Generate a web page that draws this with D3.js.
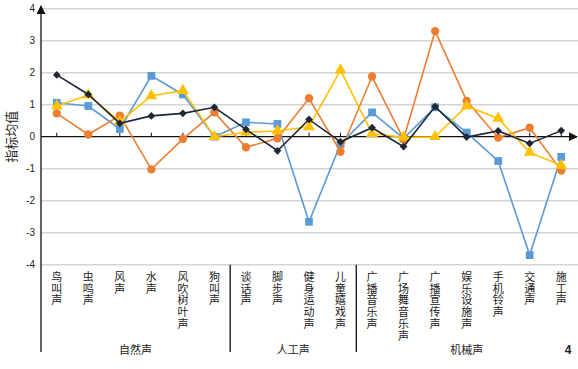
<!DOCTYPE html>
<html><head><meta charset="utf-8">
<script src="https://cdn.jsdelivr.net/npm/d3@7/dist/d3.min.js"></script>
<style>body{margin:0;background:#fff;} svg{display:block;}</style>
</head><body>
<svg id="c" width="578" height="369"></svg>
<script>
const categories = ["鸟叫声","虫鸣声","风声","水声","风吹树叶声","狗叫声","谈话声","脚步声","健身运动声","儿童嬉戏声","广播音乐声","广场舞音乐声","广播宣传声","娱乐设施声","手机铃声","交通声","施工声"];
const groups = [{name:"自然声",start:0,end:5},{name:"人工声",start:6,end:9},{name:"机械声",start:10,end:16}];
const blueVals   = [1.06,0.96,0.24,1.90,1.32,0.00,0.45,0.40,-2.66,-0.23,0.76,-0.05,0.92,0.13,-0.76,-3.70,-0.63];
const orangeVals = [0.73,0.07,0.66,-1.02,-0.07,0.76,-0.33,-0.05,1.20,-0.47,1.88,-0.08,3.30,1.12,-0.03,0.28,-1.06];
const yellowVals = [0.96,1.30,0.47,1.28,1.44,0.00,0.14,0.18,0.31,2.08,0.10,-0.02,0.00,0.96,0.57,-0.49,-0.90];
const blackVals  = [1.93,1.32,0.42,0.65,0.73,0.92,0.23,-0.44,0.54,-0.16,0.28,-0.31,0.94,-0.01,0.18,-0.21,0.19];
const yTicks = [-4,-3,-2,-1,0,1,2,3,4];
const yTitle = "指标均值";

const svg = d3.select("#c");
const x = d3.scaleBand().domain(categories).range([41,577]);
const y = d3.scaleLinear().domain([-4,4]).range([264.7,8.7]);
const cx = d => x(d) + x.bandwidth()/2;

// gridlines
svg.append("g").selectAll("line").data(yTicks.filter(v=>v!==0)).join("line")
  .attr("x1",41).attr("x2",578).attr("y1",d=>y(d)).attr("y2",d=>y(d))
  .attr("stroke","#d4d4d4").attr("stroke-width",1.5);

// y axis
const yAxis = d3.axisLeft(y).tickValues(yTicks).tickSize(0).tickPadding(6).tickFormat(d=>d3.format("d")(d).replace("−","-"));
const ya = svg.append("g").attr("transform","translate(41,0)").call(yAxis);
ya.select(".domain").remove();
ya.selectAll("text").attr("font-family","Liberation Sans, Arial, sans-serif").attr("font-size",10).attr("fill","#222");

const defs = svg.append("defs");
defs.append("marker").attr("id","arr").attr("viewBox","0 0 10 10").attr("refX",9).attr("refY",5)
  .attr("markerWidth",7).attr("markerHeight",7).attr("orient","auto-start-reverse")
  .append("path").attr("d","M0,0L10,5L0,10z").attr("fill","#111");

// vertical y axis line with arrow at top
svg.append("line").attr("x1",41).attr("x2",41).attr("y1",352).attr("y2",6)
  .attr("stroke","#111").attr("stroke-width",1.3).attr("marker-end","url(#arr)");
// zero axis with arrow
svg.append("line").attr("x1",41).attr("x2",577).attr("y1",y(0)).attr("y2",y(0))
  .attr("stroke","#111").attr("stroke-width",1.3).attr("marker-end","url(#arr)");
// category ticks on zero line
svg.append("g").selectAll("line").data(categories).join("line")
  .attr("x1",d=>cx(d)).attr("x2",d=>cx(d)).attr("y1",y(0)-4).attr("y2",y(0))
  .attr("stroke","#111").attr("stroke-width",1);

// y title
svg.append("text").attr("transform",`translate(16,${y(0)}) rotate(-90)`).attr("text-anchor","middle")
  .attr("font-family","Noto Sans CJK SC").attr("font-size",13).attr("fill","#222").text(yTitle);

// series
const series = [
  {vals:blueVals, color:"#5b9bd5", shape:"square"},
  {vals:orangeVals, color:"#ed7d31", shape:"circle"},
  {vals:yellowVals, color:"#ffc000", shape:"triangle"},
  {vals:blackVals, color:"#1e2736", shape:"diamond"}
];
const line = d3.line().x((d,i)=>cx(categories[i])).y(d=>y(d));
const symType = {square:d3.symbolSquare, circle:d3.symbolCircle, triangle:d3.symbolTriangle, diamond:d3.symbolSquare};
const symSize = {square:60, circle:55, triangle:60, diamond:30};
series.forEach(s=>{
  svg.append("path").datum(s.vals).attr("d",line).attr("fill","none").attr("stroke",s.color).attr("stroke-width",1.6);
  svg.append("g").selectAll("path").data(s.vals).join("path")
    .attr("transform",(d,i)=>`translate(${cx(categories[i])},${y(d)})` + (s.shape==="diamond"?" rotate(45)":""))
    .attr("d",d3.symbol().type(symType[s.shape]).size(symSize[s.shape]))
    .attr("fill",s.color);
});

// category labels (one character per line)
const lab = svg.append("g").attr("font-family","Noto Sans CJK SC").attr("font-size",11).attr("fill","#222");
categories.forEach(c=>{
  [...c].forEach((ch,k)=>{
    lab.append("text").attr("text-anchor","middle").attr("x",cx(c)).attr("y",281+k*11.7).text(ch);
  });
});

// group separators
groups.slice(1).forEach(g=>{
  const xs = x(categories[g.start]);
  svg.append("line").attr("x1",xs).attr("x2",xs).attr("y1",y(-4)).attr("y2",352).attr("stroke","#111").attr("stroke-width",1.3);
});
// group labels
svg.append("g").selectAll("text").data(groups).join("text")
  .attr("x",g=>(x(categories[g.start])+x(categories[g.end])+x.bandwidth())/2)
  .attr("y",354).attr("text-anchor","middle")
  .attr("font-family","Noto Sans CJK SC").attr("font-size",11).attr("fill","#222").text(g=>g.name);

svg.append("text").attr("x",568).attr("y",354).attr("text-anchor","middle").attr("font-family","Liberation Sans, Arial").attr("font-weight","bold").attr("font-size",12).attr("fill","#222").text("4");
</script>
</body></html>
